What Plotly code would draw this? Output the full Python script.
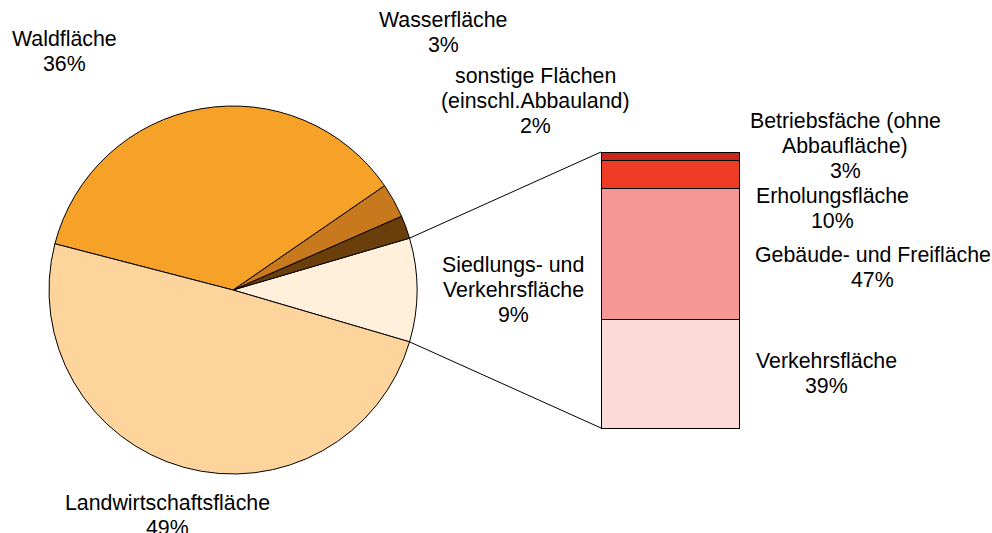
import math
import plotly.graph_objects as go

# ---- data ----
pie_labels = ["Siedlungs- und<br>Verkehrsfläche", "sonstige Flächen<br>(einschl.Abbauland)",
              "Wasserfläche", "Waldfläche", "Landwirtschaftsfläche"]
pie_values = [9, 2, 3, 36, 49]
pie_colors = ["#FFEFDB", "#6B3F0B", "#C8791E", "#F6A128", "#FCD49C"]

bar_labels = ["Verkehrsfläche", "Gebäude- und Freifläche", "Erholungsfläche",
              "Betriebsfäche (ohne<br>Abbaufläche)"]
bar_values = [39, 47, 10, 3]
bar_colors = ["#FCDAD7", "#F59795", "#EE3B24", "#C8281E"]

W, H = 992, 533
FONT = "Liberation Sans, Arial, sans-serif"
FS = 21.33

# pie geometry (pixels)
cx, cy, R = 233, 290, 184
pie_dom_x = [(cx - R) / W, (cx + R) / W]
pie_dom_y = [(H - cy - R) / H, (H - cy + R) / H]

total = sum(pie_values)
half_angle = pie_values[0] / total * 180.0  # degrees

fig = go.Figure()
fig.add_trace(go.Pie(
    labels=pie_labels, values=pie_values, sort=False,
    direction="counterclockwise", rotation=90 - half_angle,
    marker=dict(colors=pie_colors, line=dict(color="black", width=1)),
    textinfo="none", hoverinfo="skip", showlegend=False,
    domain=dict(x=pie_dom_x, y=pie_dom_y),
))

# bar geometry (pixels)
bx0, bx1, by_top, by_bot = 601, 739, 152, 428
PAD = 3  # px of room around the bar so its outline is not clipped
bar_total = sum(bar_values)
ex = PAD / (bx1 - bx0)
ey = PAD * bar_total / (by_bot - by_top)
for lab, v, c in zip(bar_labels, bar_values, bar_colors):
    fig.add_trace(go.Bar(
        x=[0], y=[v], width=1, marker=dict(color=c, line=dict(color="black", width=1)),
        hoverinfo="skip", showlegend=False, xaxis="x", yaxis="y",
    ))

fig.update_layout(
    width=W, height=H, margin=dict(l=0, r=0, t=0, b=0),
    paper_bgcolor="white", plot_bgcolor="rgba(0,0,0,0)",
    barmode="stack", bargap=0,
    font=dict(family=FONT, size=FS, color="black"),
    xaxis=dict(domain=[(bx0 - PAD) / W, (bx1 + PAD) / W], range=[-0.5 - ex, 0.5 + ex],
               visible=False, fixedrange=True),
    yaxis=dict(domain=[(H - by_bot - PAD) / H, (H - by_top + PAD) / H],
               range=[-ey, bar_total + ey], visible=False, fixedrange=True),
)

# connector lines from pie slice edges to bar corners
a = math.radians(half_angle)
px = (cx + R * math.cos(a)) / W
py_top = (H - (cy - R * math.sin(a))) / H
py_bot = (H - (cy + R * math.sin(a))) / H
fig.add_shape(type="line", xref="paper", yref="paper", x0=px, y0=py_top,
              x1=bx0 / W, y1=(H - by_top) / H, line=dict(color="black", width=1))
fig.add_shape(type="line", xref="paper", yref="paper", x0=px, y0=py_bot,
              x1=bx0 / W, y1=(H - by_bot) / H, line=dict(color="black", width=1))

LINE = 25          # line spacing in px
MID = 0.33 * FS    # baseline -> middle of text box


def label(lines, xc, base):
    for k, t in enumerate(lines):
        yb = base + k * LINE
        fig.add_annotation(x=xc / W, y=1 - (yb - MID) / H, xref="paper", yref="paper",
                           text=t, showarrow=False, xanchor="center", yanchor="middle",
                           borderpad=0)


# label positions: (centre x, first baseline y) in pixels
pie_label_pos = {0: (513, 272), 1: (535, 83), 2: (443, 27), 3: (64, 46), 4: (167.5, 510)}
for i, (x, y) in pie_label_pos.items():
    label(pie_labels[i].split("<br>") + [f"{pie_values[i]}%"], x, y)

bar_label_pos = {0: (826, 368), 1: (872.5, 262), 2: (832, 203), 3: (845, 128)}
for i, (x, y) in bar_label_pos.items():
    label(bar_labels[i].split("<br>") + [f"{bar_values[i]}%"], x, y)

fig.write_html("out.html", config={"displayModeBar": False, "staticPlot": True},
               post_script="document.body.style.margin='0px';")
